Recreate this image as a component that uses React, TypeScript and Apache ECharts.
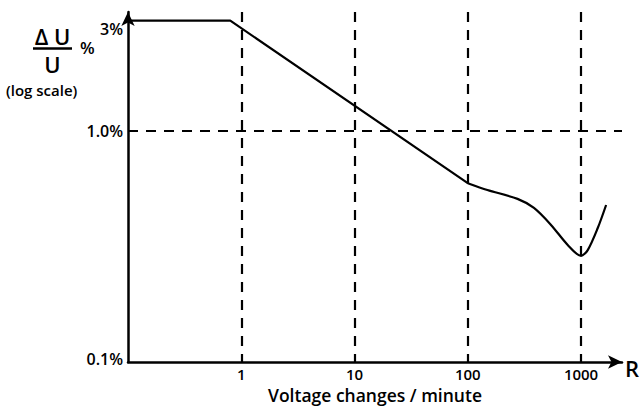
import React, { useEffect, useRef } from "react";
import * as echarts from "echarts";

const xTickValues = [1, 10, 100, 1000];
const yTickValues = [0.1, 1, 3];
const yTickLabels = ["0.1%", "1.0%", "3%"];
// flat segment then straight decline (log-log)
const straightPart: [number, number][] = [
  [0.1, 3],
  [0.8, 3],
  [100, 0.594],
];
// curved tail after 100 changes/minute
const curvedPart: [number, number][] = [
  [100, 0.594],
  [149, 0.555],
  [275, 0.508],
  [384, 0.464],
  [543, 0.392],
  [763, 0.321],
  [1000, 0.288],
  [1146, 0.305],
  [1405, 0.38],
  [1665, 0.478],
];

const FONT = "'Open Sans', sans-serif";

export default function App() {
  const ref = useRef<HTMLDivElement>(null);
  useEffect(() => {
    if (!ref.current) return;
    const chart = echarts.init(ref.current, undefined, { renderer: "svg" });
    chart.setOption({
      animation: false,
      backgroundColor: "#fff",
      grid: { left: 128, top: 12, right: 21, bottom: 50, containLabel: false, outerBoundsMode: "none" },
      xAxis: {
        type: "log",
        logBase: 10,
        min: 0.1,
        max: 2300,
        axisLine: {
          show: true,
          lineStyle: { color: "#000", width: 2.5 },
          symbol: ["none", "arrow"],
          symbolSize: [10, 14],
        },
        axisTick: { show: false },
        axisLabel: {
          customValues: xTickValues,
          formatter: (v: number) => String(Math.round(v)),
          color: "#000",
          fontFamily: FONT,
          fontSize: 15,
          fontWeight: 600,
          margin: 4,
        },
        splitLine: {
          show: true,
          showMinLine: false,
          showMaxLine: false,
          lineStyle: { color: "#000", width: 2.2, type: [10, 8] },
        },
        name: "Voltage changes / minute",
        nameLocation: "middle",
        nameGap: 24,
        nameTextStyle: { color: "#000", fontFamily: FONT, fontSize: 17.5, fontWeight: 600 },
      },
      yAxis: {
        type: "log",
        logBase: 10,
        min: 0.1,
        max: 3.27,
        axisLine: {
          show: true,
          lineStyle: { color: "#000", width: 2.5 },
          symbol: ["none", "arrow"],
          symbolSize: [10, 14],
        },
        axisTick: { show: false },
        axisLabel: {
          customValues: yTickValues,
          formatter: (v: number) => {
            const i = yTickValues.findIndex((t) => Math.abs(t - v) < 1e-6);
            const s = i >= 0 ? yTickLabels[i] : "";
            if (i === 2) return "{top|" + s + "}";
            if (i === 0) return "{bot|" + s + "}";
            return s;
          },
          color: "#000",
          fontFamily: FONT,
          fontSize: 16,
          fontWeight: 600,
          margin: 5,
          rich: {
            top: { fontFamily: FONT, fontSize: 16, fontWeight: 600, color: "#000", padding: [16, 0, 0, 0] },
            bot: { fontFamily: FONT, fontSize: 16, fontWeight: 600, color: "#000", padding: [0, 0, 6, 0] },
          },
        },
        splitLine: {
          show: true,
          showMinLine: false,
          showMaxLine: false,
          lineStyle: { color: "#000", width: 2.2, type: [10, 8] },
        },
      },
      graphic: [
        {
          type: "text",
          x: 52.5,
          y: 22,
          style: {
            text: "Δ U\nU",
            font: "600 22px 'Open Sans', sans-serif",
            lineHeight: 28,
            align: "center",
            verticalAlign: "top",
            fill: "#000",
          },
        },
        { type: "line", shape: { x1: 33, y1: 48.5, x2: 72, y2: 48.5 }, style: { stroke: "#000", lineWidth: 2.5 } },
        { type: "text", left: 80, top: 39, style: { text: "%", font: "600 17px 'Open Sans', sans-serif", fill: "#000" } },
        { type: "text", left: 6, top: 82, style: { text: "(log scale)", font: "600 15px 'Open Sans', sans-serif", fill: "#000" } },
        { type: "text", left: 625, top: 357, style: { text: "R", font: "600 22px 'Open Sans', sans-serif", fill: "#000" } },
      ],
      series: [
        {
          type: "line",
          data: straightPart,
          symbol: "none",
          lineStyle: { color: "#000", width: 2.2 },
          z: 5,
        },
        {
          type: "line",
          data: curvedPart,
          symbol: "none",
          smooth: 0.3,
          lineStyle: { color: "#000", width: 2.2 },
          z: 5,
        },
      ],
    });
    return () => chart.dispose();
  }, []);
  return <div ref={ref} style={{ position: "fixed", left: 0, top: 0, width: 643, height: 412 }} />;
}
